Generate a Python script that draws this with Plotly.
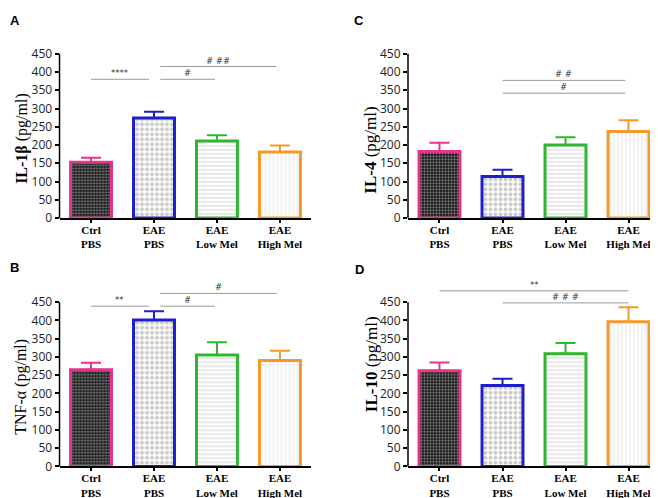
import plotly.graph_objects as go

# ---------------- data ----------------
group_labels = ["Ctrl<br>PBS", "EAE<br>PBS", "EAE<br>Low Mel", "EAE<br>High Mel"]
group_pos = [0, 1, 2, 3]
y_ticks = [0, 50, 100, 150, 200, 250, 300, 350, 400, 450]

il1b_mean = [153, 274, 211, 181]
il1b_err = [12, 17, 16, 18]
tnf_mean = [265, 401, 305, 290]
tnf_err = [19, 24, 35, 27]
il4_mean = [182, 114, 200, 237]
il4_err = [24, 18, 21, 31]
il10_mean = [262, 222, 309, 396]
il10_err = [23, 18, 29, 40]

# significance brackets: (label, from group, to group, height)
sig_il1b = [("****", 0.0, 0.92, 380), ("#", 1.1, 1.97, 380), ("# ##", 1.1, 2.94, 415)]
sig_tnf = [("**", 0.0, 0.92, 439), ("#", 1.1, 1.97, 439), ("#", 1.1, 2.95, 474)]
sig_il4 = [("#", 1.0, 2.95, 342), ("# #", 1.0, 2.95, 377)]
sig_il10 = [("**", 0.0, 3.0, 481), ("# # #", 1.0, 3.0, 448)]

# ---------------- style ----------------
YMAX = 510
bar_colors = ["#E3368A", "#1E1ECC", "#2FB82F", "#F49A2C"]
patterns = [
    dict(shape=".", fgcolor="#ffffff", bgcolor="#151515", size=3, solidity=0.42),
    dict(shape=".", fgcolor="#969696", bgcolor="white", size=5, solidity=0.5),
    dict(shape="-", fgcolor="#a0a0a0", bgcolor="white", size=4, solidity=0.25),
    dict(shape="|", fgcolor="#c8c8c8", bgcolor="white", size=4, solidity=0.25),
]

panels = [
    dict(letter="A", title="<b>IL-1β</b> (pg/ml)", tsize=16, mean=il1b_mean, err=il1b_err, sig=sig_il1b,
         xd=[0.0783, 0.4612], yd=[0.5713, 0.9514], tx=14, ty=133, lx=7, ly=13),
    dict(letter="B", title="TNF-α (pg/ml)", tsize=16, mean=tnf_mean, err=tnf_err, sig=sig_tnf,
         xd=[0.0783, 0.4612], yd=[0.0643, 0.4444], tx=13, ty=385, lx=6, ly=264),
    dict(letter="C", title="<b>IL-4</b> (pg/ml)", tsize=17, mean=il4_mean, err=il4_err, sig=sig_il4,
         xd=[0.6079, 0.9909], yd=[0.5713, 0.9514], tx=363, ty=145, lx=351, ly=13),
    dict(letter="D", title="<b>IL-10</b> (pg/ml)", tsize=17, mean=il10_mean, err=il10_err, sig=sig_il10,
         xd=[0.6079, 0.9909], yd=[0.0643, 0.4444], tx=363, ty=362, lx=351, ly=266),
]

W, H = 658, 498
fig = go.Figure()
annotations = []
shapes = []
layout_axes = {}

for k, p in enumerate(panels):
    n = "" if k == 0 else str(k + 1)
    xa, ya = "x" + n, "y" + n
    for i in range(4):
        fig.add_trace(go.Bar(
            x=[group_pos[i]], y=[p["mean"][i]], width=0.65,
            xaxis=xa, yaxis=ya,
            marker=dict(color="white", line=dict(color=bar_colors[i], width=3),
                        pattern=patterns[i]),
            error_y=dict(type="data", array=[p["err"][i]], arrayminus=[0], symmetric=False,
                         color=bar_colors[i], thickness=2, width=10),
            showlegend=False, hoverinfo="skip",
        ))
    layout_axes["xaxis" + n] = dict(
        domain=p["xd"], range=[-0.5, 3.5], anchor=ya, tickmode="array",
        tickvals=group_pos, ticktext=["<b>" + t.replace("<br>", "</b><br><b>") + "</b>" for t in group_labels],
        showline=True, linecolor="black", linewidth=1.5, ticks="outside", ticklen=3,
        tickwidth=1.5, tickcolor="black", showgrid=False, zeroline=False,
        ticklabelstandoff=-2,
        tickfont=dict(family="Liberation Serif", size=11, color="black"), fixedrange=True,
    )
    layout_axes["yaxis" + n] = dict(
        domain=p["yd"], range=[0, YMAX], anchor=xa, tickmode="array", tickvals=y_ticks,
        showline=False, ticks="outside", ticklen=4, tickwidth=1.5, tickcolor="black",
        showgrid=False, zeroline=False,
        tickfont=dict(family="Open Sans", size=12, color="#222"), fixedrange=True,
    )
    # y axis line up to the last tick
    shapes.append(dict(type="line", xref=xa + " domain", yref=ya + " domain",
                       x0=0, x1=0, y0=0, y1=y_ticks[-1] / YMAX,
                       line=dict(color="black", width=1.5)))
    # significance brackets
    for lab, g0, g1, h in p["sig"]:
        shapes.append(dict(type="line", xref=xa, yref=ya, x0=g0, x1=g1, y0=h, y1=h,
                           line=dict(color="#9a9a9a", width=1)))
        annotations.append(dict(xref=xa, yref=ya, x=(g0 + g1) / 2, y=h, text=lab,
                                showarrow=False, yanchor="bottom", xanchor="center",
                                font=dict(family="DejaVu Sans", size=8.5, color="#333"),
                                borderpad=0))
    # axis title
    annotations.append(dict(xref="paper", yref="paper", x=p["tx"] / W, y=1 - p["ty"] / H,
                            text=p["title"], textangle=-90, showarrow=False,
                            xanchor="center", yanchor="middle",
                            font=dict(family="Liberation Serif", size=p["tsize"], color="black")))
    # panel letter
    annotations.append(dict(xref="paper", yref="paper", x=p["lx"] / W, y=1 - p["ly"] / H,
                            text="<b>" + p["letter"] + "</b>", showarrow=False,
                            xanchor="center", yanchor="middle",
                            font=dict(family="Liberation Sans", size=13, color="black")))

fig.update_layout(
    width=W, height=H, margin=dict(l=0, r=0, t=0, b=0),
    paper_bgcolor="white", plot_bgcolor="white", barmode="overlay",
    annotations=annotations, shapes=shapes, **layout_axes,
)
fig.write_html("out.html")
